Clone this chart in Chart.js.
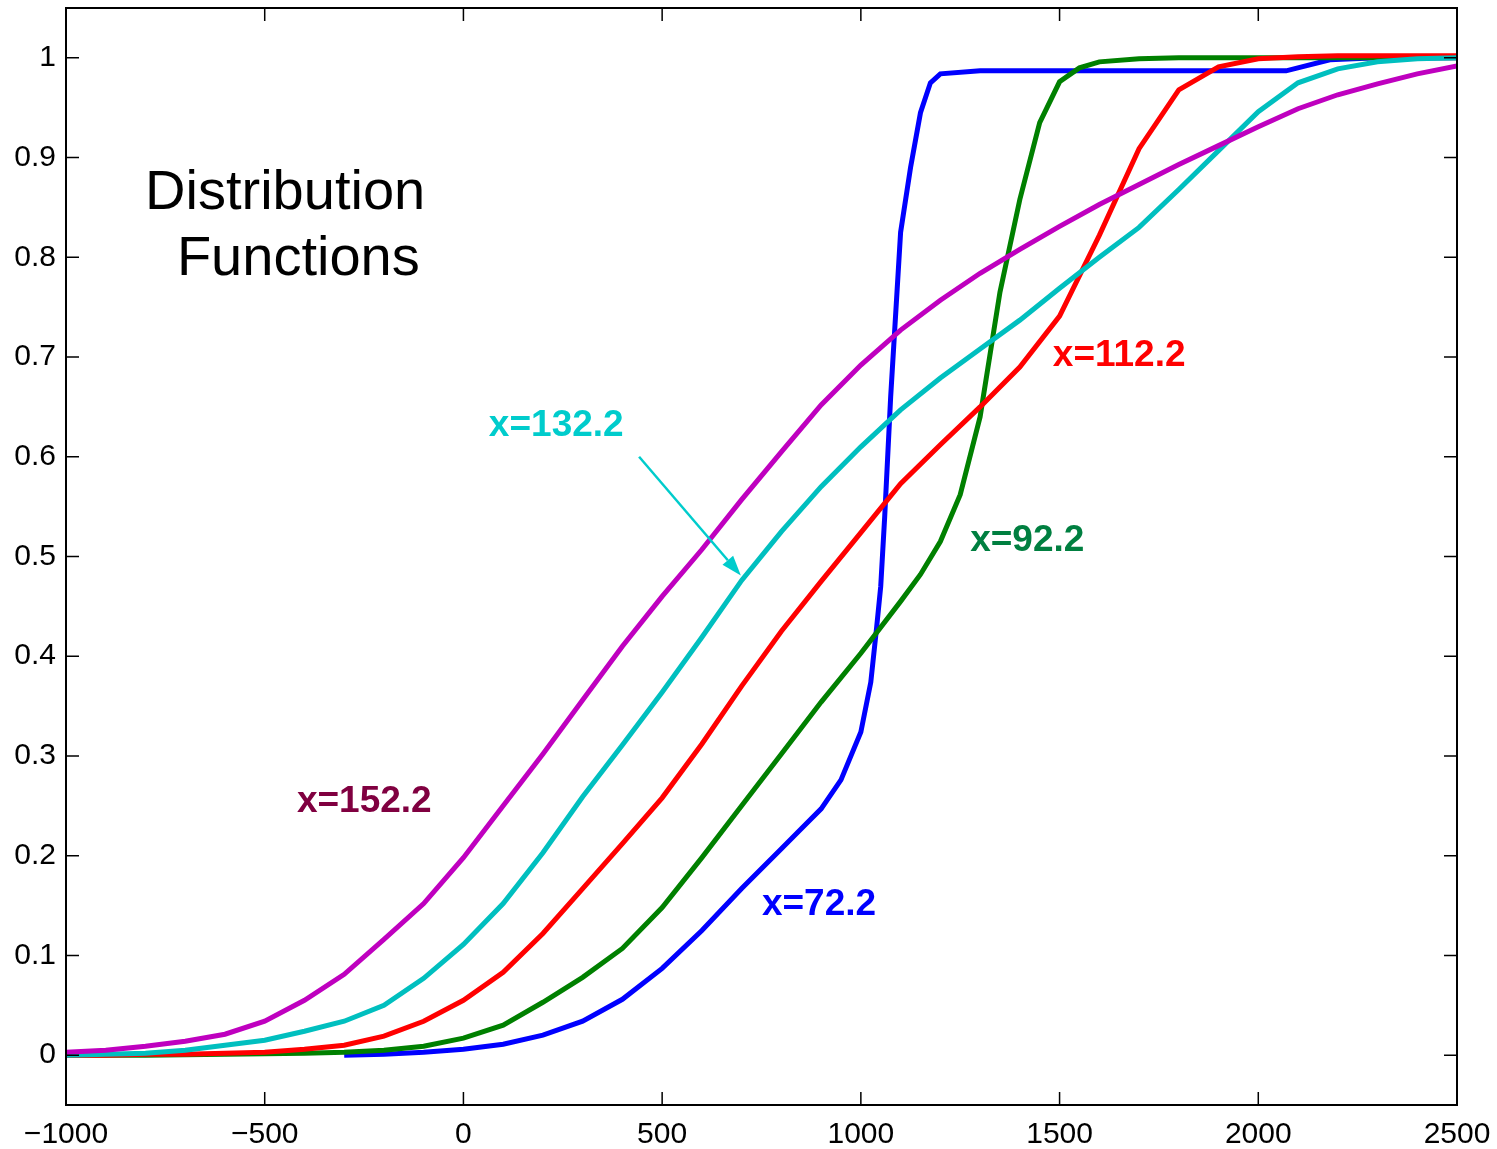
<!DOCTYPE html>
<html>
<head>
<meta charset="utf-8">
<script src="https://cdn.jsdelivr.net/npm/chart.js@4.4.1/dist/chart.umd.min.js"></script>
<style>
  html, body { margin: 0; padding: 0; background: #fff; }
  #wrap { width: 1497px; height: 1149px; }
</style>
</head>
<body>
<div id="wrap"><canvas id="cdf" width="1497" height="1149"></canvas></div>
<script>
// tick values
const xTicks = [-1000, -500, 0, 500, 1000, 1500, 2000, 2500];
const yTicks = [0, 0.1, 0.2, 0.3, 0.4, 0.5, 0.6, 0.7, 0.8, 0.9, 1];

// shared grid for the smooth curves
const gridX = [-1000, -900, -800, -700, -600, -500, -400, -300, -200, -100, 0, 100, 200, 300, 400, 500, 600, 700,
  800, 900, 1000, 1100, 1200, 1300, 1400, 1500, 1600, 1700, 1800, 1900, 2000, 2100, 2200, 2300, 2400, 2500];

const magentaY = [0.003, 0.005, 0.009, 0.014, 0.021, 0.034, 0.055, 0.081, 0.116, 0.152, 0.198, 0.250, 0.302, 0.356,
  0.410, 0.460, 0.507, 0.557, 0.605, 0.652, 0.692, 0.727, 0.757, 0.784, 0.808, 0.831, 0.853, 0.873, 0.893, 0.912,
  0.931, 0.949, 0.963, 0.974, 0.984, 0.992];

const cyanY = [0.000, 0.001, 0.002, 0.005, 0.010, 0.015, 0.024, 0.034, 0.050, 0.077, 0.111, 0.152, 0.203, 0.259,
  0.311, 0.364, 0.419, 0.476, 0.525, 0.570, 0.610, 0.647, 0.679, 0.708, 0.737, 0.769, 0.800, 0.830, 0.868, 0.907,
  0.946, 0.975, 0.989, 0.996, 0.999, 1.000];

const redY = [0.000, 0.000, 0.001, 0.001, 0.002, 0.003, 0.006, 0.010, 0.019, 0.034, 0.055, 0.083, 0.122, 0.167,
  0.212, 0.258, 0.312, 0.370, 0.425, 0.475, 0.524, 0.573, 0.612, 0.650, 0.690, 0.741, 0.822, 0.909, 0.968, 0.991,
  0.999, 1.001, 1.002, 1.002, 1.002, 1.002];

const greenX = [-1000, -800, -600, -400, -300, -200, -100, 0, 100, 200, 300, 400, 500, 600, 700, 800, 900, 1000,
  1100, 1150, 1200, 1250, 1300, 1350, 1400, 1450, 1500, 1550, 1600, 1700, 1800, 2000, 2200, 2500];
const greenY = [0.000, 0.000, 0.001, 0.002, 0.003, 0.005, 0.009, 0.017, 0.030, 0.053, 0.078, 0.107, 0.148, 0.198,
  0.250, 0.302, 0.354, 0.403, 0.455, 0.482, 0.515, 0.562, 0.640, 0.765, 0.858, 0.935, 0.976, 0.990, 0.996, 0.999,
  1.000, 1.000, 1.000, 1.000];

const blueX = [-300, -200, -100, 0, 100, 200, 300, 400, 500, 600, 700, 800, 850, 900, 950, 1000, 1025, 1040, 1050,
  1060, 1075, 1100, 1125, 1150, 1175, 1200, 1300, 2070, 2180, 2300, 2500];
const blueY = [0.000, 0.001, 0.003, 0.006, 0.011, 0.020, 0.034, 0.056, 0.087, 0.125, 0.167, 0.207, 0.227, 0.247,
  0.276, 0.324, 0.374, 0.430, 0.470, 0.540, 0.660, 0.825, 0.890, 0.945, 0.975, 0.984, 0.987, 0.987, 0.998, 1.000,
  1.000];

// text placed in data coordinates
const notes = [
  { text: "x=132.2", x: 64, y: 0.631, color: "#00cccc" },
  { text: "x=112.2", x: 1483, y: 0.701, color: "#ff0000" },
  { text: "x=92.2", x: 1275, y: 0.516, color: "#007f40" },
  { text: "x=152.2", x: -419, y: 0.254, color: "#800040" },
  { text: "x=72.2", x: 751, y: 0.151, color: "#0000ff" }
];
const arrowFrom = [442, 0.600];
const arrowTo = [698, 0.481];

const pts = (xs, ys) => xs.map((x, i) => ({ x, y: ys[i] }));
const minus = v => v < 0 ? "\u2212" + Math.abs(v) : String(v);

const line = (label, data, color) => ({
  label, data, borderColor: color, borderWidth: 5, pointRadius: 0, tension: 0, fill: false
});

const boxPlugin = {
  id: "boxPlugin",
  afterDatasetsDraw(chart) {
    const { ctx, chartArea: a, scales } = chart;
    const xs = scales.x, ys = scales.y;
    ctx.save();
    ctx.strokeStyle = "#000";
    ctx.lineWidth = 2;
    ctx.strokeRect(a.left, a.top, a.right - a.left, a.bottom - a.top);
    ctx.lineWidth = 1.5;
    ctx.beginPath();
    xTicks.forEach(v => {
      const p = xs.getPixelForValue(v);
      ctx.moveTo(p, a.bottom); ctx.lineTo(p, a.bottom - 13);
      ctx.moveTo(p, a.top); ctx.lineTo(p, a.top + 13);
    });
    yTicks.forEach(v => {
      const p = ys.getPixelForValue(v);
      ctx.moveTo(a.left, p); ctx.lineTo(a.left + 13, p);
      ctx.moveTo(a.right, p); ctx.lineTo(a.right - 13, p);
    });
    ctx.stroke();

    // title
    ctx.fillStyle = "#000";
    ctx.font = '56px "Liberation Sans", Arial, sans-serif';
    ctx.textBaseline = "alphabetic";
    ctx.textAlign = "left";
    ctx.fillText("Distribution", xs.getPixelForValue(-801), ys.getPixelForValue(0.848));
    ctx.fillText("Functions", xs.getPixelForValue(-721), ys.getPixelForValue(0.782));

    // curve labels
    ctx.font = 'bold 37px "Liberation Sans", Arial, sans-serif';
    ctx.textBaseline = "middle";
    notes.forEach(n => {
      ctx.fillStyle = n.color;
      ctx.fillText(n.text, xs.getPixelForValue(n.x), ys.getPixelForValue(n.y));
    });

    // arrow
    const x0 = xs.getPixelForValue(arrowFrom[0]), y0 = ys.getPixelForValue(arrowFrom[1]);
    const x1 = xs.getPixelForValue(arrowTo[0]), y1 = ys.getPixelForValue(arrowTo[1]);
    const ang = Math.atan2(y1 - y0, x1 - x0);
    const hl = 20, hw = 7;
    const bx = x1 - hl * Math.cos(ang), by = y1 - hl * Math.sin(ang);
    ctx.strokeStyle = "#00cccc";
    ctx.fillStyle = "#00cccc";
    ctx.lineWidth = 2.5;
    ctx.beginPath();
    ctx.moveTo(x0, y0); ctx.lineTo(bx, by);
    ctx.stroke();
    ctx.beginPath();
    ctx.moveTo(x1, y1);
    ctx.lineTo(bx + hw * Math.sin(ang), by - hw * Math.cos(ang));
    ctx.lineTo(bx - hw * Math.sin(ang), by + hw * Math.cos(ang));
    ctx.closePath();
    ctx.fill();
    ctx.restore();
  }
};

new Chart(document.getElementById("cdf"), {
  type: "line",
  data: {
    datasets: [
      line("x=152.2", pts(gridX, magentaY), "#bf00bf"),
      line("x=132.2", pts(gridX, cyanY), "#00bfbf"),
      line("x=112.2", pts(gridX, redY), "#ff0000"),
      line("x=92.2", pts(greenX, greenY), "#008000"),
      line("x=72.2", pts(blueX, blueY), "#0000ff")
    ]
  },
  options: {
    responsive: false,
    animation: false,
    layout: { autoPadding: false, padding: { top: 8, right: 40, bottom: 0, left: 0 } },
    plugins: { legend: { display: false }, tooltip: { enabled: false } },
    scales: {
      x: {
        type: "linear", min: -1000, max: 2500,
        afterBuildTicks: s => { s.ticks = xTicks.map(v => ({ value: v })); },
        afterFit: s => { s.height = 44; s.paddingLeft = 0; s.paddingRight = 0; },
        grid: { display: false, drawTicks: false },
        border: { display: false },
        ticks: {
          autoSkip: false, maxRotation: 0, padding: 12, color: "#000",
          font: { family: "Liberation Sans", size: 30 },
          callback: v => minus(v)
        }
      },
      y: {
        type: "linear", min: -0.05, max: 1.05,
        afterBuildTicks: s => { s.ticks = yTicks.map(v => ({ value: v })); },
        afterFit: s => { s.width = 66; s.paddingTop = 0; s.paddingBottom = 0; },
        grid: { display: false, drawTicks: false },
        border: { display: false },
        ticks: {
          padding: 10, color: "#000",
          font: { family: "Liberation Sans", size: 30 },
          callback: v => String(Math.round(v * 10) / 10)
        }
      }
    }
  },
  plugins: [boxPlugin]
});
</script>
</body>
</html>
